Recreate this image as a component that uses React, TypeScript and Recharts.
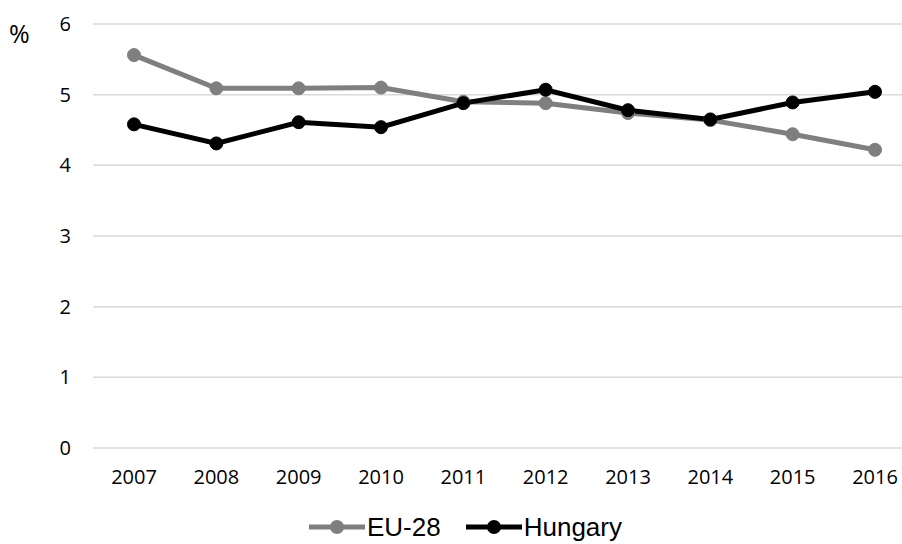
import React from 'react';
import { LineChart, Line, XAxis, YAxis, CartesianGrid } from 'recharts';

const years = ['2007', '2008', '2009', '2010', '2011', '2012', '2013', '2014', '2015', '2016'];
const eu28 = [5.56, 5.09, 5.09, 5.1, 4.9, 4.88, 4.74, 4.64, 4.44, 4.22];
const hungary = [4.58, 4.31, 4.61, 4.54, 4.88, 5.07, 4.78, 4.65, 4.89, 5.04];
const yTicks = [0, 1, 2, 3, 4, 5, 6];

const GREY = '#7f7f7f';
const BLACK = '#000000';
const TICK_FONT = '"Open Sans", sans-serif';
const LEGEND_FONT = '"Liberation Sans", Arial, sans-serif';

const data = years.map((year, i) => ({ year, eu: eu28[i], hu: hungary[i] }));

const LegendItem = ({ color, label, gap }: { color: string; label: string; gap: number }) => (
  <div style={{ display: 'flex', alignItems: 'center', marginRight: gap }}>
    <svg width={56} height={16}>
      <line x1={0} y1={8} x2={56} y2={8} stroke={color} strokeWidth={5} strokeLinecap="round" />
      <circle cx={28} cy={8} r={7} fill={color} />
    </svg>
    <span style={{ fontSize: 26, lineHeight: '26px', color: '#000', marginLeft: 2 }}>{label}</span>
  </div>
);

const App: React.FC = () => {
  return (
    <div style={{ position: 'fixed', left: 0, top: 0, width: 902, height: 544, background: '#fff', overflow: 'hidden' }}>
      <LineChart width={902} height={544} data={data} margin={{ top: 24, right: -10, left: 0, bottom: 36 }}>
        <CartesianGrid vertical={false} stroke="#d9d9d9" strokeWidth={1.5} />
        <XAxis
          dataKey="year"
          axisLine={false}
          tickLine={false}
          padding={{ left: 41, right: 37 }}
          height={60}
          tickMargin={16}
          tick={{ fontSize: 20, fill: '#000', fontFamily: TICK_FONT }}
          interval={0}
        />
        <YAxis
          width={93}
          domain={[0, 6]}
          ticks={yTicks}
          axisLine={false}
          tickLine={false}
          tickMargin={16}
          tick={{ fontSize: 20, fill: '#000', fontFamily: TICK_FONT }}
        />
        <Line
          dataKey="eu"
          stroke={GREY}
          strokeWidth={5}
          dot={{ r: 6.5, fill: GREY, stroke: GREY, strokeWidth: 1 }}
          isAnimationActive={false}
        />
        <Line
          dataKey="hu"
          stroke={BLACK}
          strokeWidth={5}
          dot={{ r: 6.5, fill: BLACK, stroke: BLACK, strokeWidth: 1 }}
          isAnimationActive={false}
        />
      </LineChart>
      <div style={{ position: 'absolute', left: 9, top: 16, fontSize: 25, fontFamily: TICK_FONT, color: '#000' }}>%</div>
      <div style={{ position: 'absolute', left: 309, top: 514, display: 'flex', alignItems: 'center', fontFamily: LEGEND_FONT }}>
        <LegendItem color={GREY} label="EU-28" gap={25} />
        <LegendItem color={BLACK} label="Hungary" gap={0} />
      </div>
    </div>
  );
};

export default App;
